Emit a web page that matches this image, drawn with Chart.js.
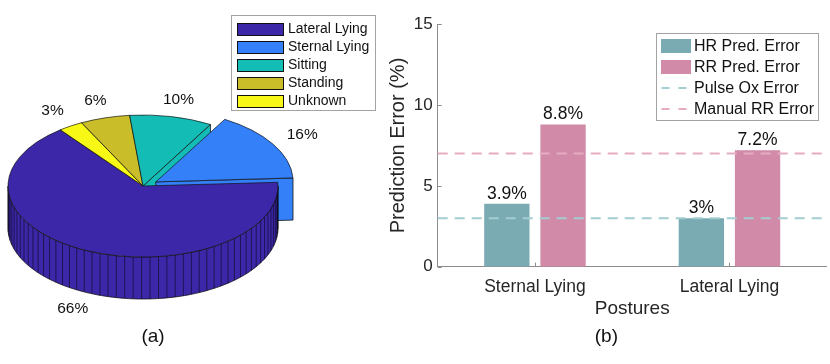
<!DOCTYPE html>
<html>
<head>
<meta charset="utf-8">
<script src="https://cdn.jsdelivr.net/npm/chart.js@4.4.1/dist/chart.umd.min.js"></script>
<style>
html,body{margin:0;padding:0;background:#fff;width:830px;height:364px;overflow:hidden}
#pie{position:absolute;left:0;top:0}
#bar{position:absolute;left:386px;top:0}
</style>
</head>
<body>
<canvas id="pie" width="400" height="364"></canvas>
<canvas id="bar" width="444" height="364"></canvas>
<script>
// ---------- data ----------
const postures = ['Lateral Lying', 'Sternal Lying', 'Sitting', 'Standing', 'Unknown'];
const postureShare = [66, 16, 10, 6, 3];
const postureColors = ['#3c27a8', '#3480f8', '#13bdb6', '#c9bd2a', '#f8f816'];
const pieClockwiseOrder = [0, 4, 3, 2, 1];

const barCategories = ['Sternal Lying', 'Lateral Lying'];
const hrPredError = [3.9, 3.0];
const rrPredError = [8.8, 7.2];
const refLabels = ['Pulse Ox Error', 'Manual RR Error'];
const refErrors = [3, 7];
const yTicks = [0, 5, 10, 15];

// ---------- styles ----------
const FONT = '"Liberation Sans", Arial, Helvetica, sans-serif';
Chart.defaults.font.family = FONT;
const textColor = '#262626';
const axisColor = '#8c8c8c';
const refColors = ['#a3cdd2', '#e5abc1'];
const explodeIndex = 1;           // Sternal Lying is pulled out
const explodeAmount = 60;
const view = { squash: 0.526, depth: 42, shiftX: -10, labelR: 1.25, stripeStep: Math.PI / 50 };

// ---------- 3D pie plugin ----------
function pieGeometry(chart) {
  const arcs = chart.getDatasetMeta(0).data;
  const cy = arcs[0].y;
  return arcs.map((a, i) => {
    const o = a.options;
    const off = (o.offset || 0) / 4;
    const s = a.startAngle, e = a.endAngle, mid = (s + e) / 2;
    const fix = 1 - Math.sin(Math.min(Math.PI, e - s));
    const ox = a.x + Math.cos(mid) * off, oy = a.y + Math.sin(mid) * off;
    const r = a.outerRadius + off * fix;
    const P = (th, rr, z) => [ox + rr * Math.cos(th) + view.shiftX,
                              cy + (oy + rr * Math.sin(th) - cy) * view.squash + z];
    return { i, s, e, mid, r, P, color: o.backgroundColor };
  });
}
function poly(ctx, pts) {
  ctx.beginPath();
  ctx.moveTo(pts[0][0], pts[0][1]);
  for (let j = 1; j < pts.length; j++) ctx.lineTo(pts[j][0], pts[j][1]);
  ctx.closePath();
}
const pie3d = {
  id: 'pie3d',
  beforeDatasetsDraw(chart) {
    const ctx = chart.ctx;
    const g = pieGeometry(chart);
    const d = view.depth;
    const sorted = g.slice().sort((a, b) => Math.sin(a.mid) - Math.sin(b.mid));
    ctx.save();
    ctx.lineJoin = 'round';
    for (const sl of sorted) {
      [[sl.s, sl.s - Math.PI / 2], [sl.e, sl.e + Math.PI / 2]].forEach(([th, nrm]) => {
        if (Math.sin(nrm) <= 0) return;
        poly(ctx, [sl.P(th, 0, 0), sl.P(th, sl.r, 0), sl.P(th, sl.r, d), sl.P(th, 0, d)]);
        ctx.fillStyle = sl.color; ctx.fill();
        ctx.strokeStyle = '#111'; ctx.lineWidth = 0.8; ctx.stroke();
      });
      for (let n = -1; n <= 1; n++) {
        const lo = Math.max(sl.s, 2 * Math.PI * n), hi = Math.min(sl.e, 2 * Math.PI * n + Math.PI);
        if (hi <= lo) continue;
        const steps = Math.max(2, Math.ceil((hi - lo) / (Math.PI / 180)));
        const pts = [];
        for (let j = 0; j <= steps; j++) pts.push(sl.P(lo + (hi - lo) * j / steps, sl.r, 0));
        for (let j = steps; j >= 0; j--) pts.push(sl.P(lo + (hi - lo) * j / steps, sl.r, d));
        poly(ctx, pts);
        ctx.fillStyle = sl.color; ctx.fill();
        ctx.strokeStyle = '#111'; ctx.lineWidth = 0.8; ctx.stroke();
        ctx.beginPath();
        const st = view.stripeStep;
        for (let th = sl.s + Math.ceil((lo - sl.s) / st) * st; th <= hi; th += st) {
          const p1 = sl.P(th, sl.r, 0), p2 = sl.P(th, sl.r, d);
          ctx.moveTo(p1[0], p1[1]); ctx.lineTo(p2[0], p2[1]);
        }
        ctx.strokeStyle = 'rgba(0,0,0,0.85)'; ctx.lineWidth = 0.6; ctx.stroke();
      }
    }
    ctx.restore();
    const cy = chart.getDatasetMeta(0).data[0].y;
    ctx.save();
    ctx.translate(view.shiftX, cy);
    ctx.scale(1, view.squash);
    ctx.translate(0, -cy);
  },
  afterDatasetsDraw(chart) {
    const ctx = chart.ctx;
    ctx.restore();
    const g = pieGeometry(chart);
    const vals = chart.data.datasets[0].data;
    ctx.save();
    ctx.font = '15.5px ' + FONT;
    ctx.fillStyle = '#111';
    ctx.textAlign = 'center';
    ctx.textBaseline = 'middle';
    g.forEach(sl => {
      const z = Math.sin(sl.mid) > 0 ? view.depth : 0;
      const p = sl.P(sl.mid, sl.r * view.labelR, z);
      ctx.fillText(vals[sl.i] + '%', p[0], p[1]);
    });
    ctx.restore();
  },
  afterDraw(chart) {
    const ctx = chart.ctx;
    const box = { x: 231.5, y: 15.5, w: 144, h: 95, rowH: 18, first: 28.5 };
    ctx.save();
    ctx.fillStyle = '#fff';
    ctx.fillRect(box.x, box.y, box.w, box.h);
    ctx.strokeStyle = '#a3a3a3'; ctx.lineWidth = 1;
    ctx.strokeRect(box.x, box.y, box.w, box.h);
    ctx.font = '14px ' + FONT;
    ctx.textBaseline = 'middle';
    ctx.textAlign = 'left';
    postures.forEach((name, i) => {
      const yc = box.first + i * box.rowH;
      ctx.fillStyle = postureColors[i];
      ctx.fillRect(box.x + 6, Math.round(yc - 6) + 0.5, 46, 12);
      ctx.strokeStyle = '#111';
      ctx.strokeRect(box.x + 6, Math.round(yc - 6) + 0.5, 46, 12);
      ctx.fillStyle = '#111';
      ctx.fillText(name, box.x + 56.5, yc + 0.5);
    });
    ctx.restore();
  }
};

new Chart(document.getElementById('pie'), {
  type: 'pie',
  data: {
    labels: pieClockwiseOrder.map(i => postures[i]),
    datasets: [{
      data: pieClockwiseOrder.map(i => postureShare[i]),
      backgroundColor: pieClockwiseOrder.map(i => postureColors[i]),
      offset: pieClockwiseOrder.map(i => i === explodeIndex ? explodeAmount : 0),
      borderColor: '#111',
      borderWidth: 0.9,
      hoverOffset: 0,
      clip: false
    }]
  },
  options: {
    responsive: false,
    animation: false,
    events: [],
    rotation: 87,
    radius: 135,
    layout: { padding: { left: 0, right: 94, top: 46.4, bottom: 0 } },
    plugins: {
      legend: { display: false },
      tooltip: { enabled: false },
      title: {
        display: true, position: 'bottom', fullSize: false, text: '(a)',
        font: { size: 19, weight: 'normal' }, color: '#111',
        padding: { top: 0, bottom: 15.6 }
      }
    }
  },
  plugins: [pie3d]
});

// ---------- bar chart ----------
const barDecor = {
  id: 'barDecor',
  afterDatasetsDraw(chart) {
    const ctx = chart.ctx;
    const xs = chart.scales.x, ys = chart.scales.y, area = chart.chartArea;
    ctx.save();
    ctx.lineWidth = 2;
    ctx.setLineDash([10, 7]);
    refErrors.forEach((v, i) => {
      const y = ys.getPixelForValue(v);
      ctx.strokeStyle = refColors[i];
      ctx.beginPath(); ctx.moveTo(area.left, y); ctx.lineTo(area.right, y); ctx.stroke();
    });
    ctx.setLineDash([]);
    ctx.font = '17.5px ' + FONT;
    ctx.fillStyle = '#111';
    ctx.textAlign = 'center';
    ctx.textBaseline = 'middle';
    [0, 1].forEach(di => {
      const meta = chart.getDatasetMeta(di);
      meta.data.forEach((el, j) => {
        ctx.fillText(chart.data.datasets[di].data[j] + '%', el.x, el.y - 10);
      });
    });
    ctx.strokeStyle = axisColor; ctx.lineWidth = 1;
    ctx.beginPath();
    ys.ticks.forEach(t => {
      const y = Math.round(ys.getPixelForValue(t.value)) + 0.5;
      ctx.moveTo(ys.right, y); ctx.lineTo(ys.right + 4, y);
    });
    xs.ticks.forEach((t, i) => {
      const x = Math.round(xs.getPixelForTick(i)) + 0.5;
      ctx.moveTo(x, xs.top); ctx.lineTo(x, xs.top - 4);
    });
    ctx.stroke();
    ctx.restore();
  },
  afterDraw(chart) {
    const ctx = chart.ctx;
    const box = { x: 270.5, y: 33.5, w: 162, h: 87, first: 46, rowH: 21 };
    const items = chart.data.datasets.map(ds => ({ label: ds.label, bar: true, color: ds.backgroundColor }))
      .concat(refLabels.map((l, i) => ({ label: l, bar: false, color: refColors[i] })));
    ctx.save();
    ctx.fillStyle = '#fff';
    ctx.fillRect(box.x, box.y, box.w, box.h);
    ctx.strokeStyle = '#a3a3a3'; ctx.lineWidth = 1;
    ctx.strokeRect(box.x, box.y, box.w, box.h);
    ctx.font = '16px ' + FONT;
    ctx.textBaseline = 'middle';
    ctx.textAlign = 'left';
    items.forEach((it, i) => {
      const yc = box.first + i * box.rowH;
      if (!it.bar) {
        ctx.strokeStyle = it.color; ctx.lineWidth = 2;
        ctx.setLineDash([8, 9]);
        ctx.beginPath(); ctx.moveTo(box.x + 5, yc); ctx.lineTo(box.x + 35, yc); ctx.stroke();
        ctx.setLineDash([]);
      } else {
        ctx.fillStyle = it.color;
        ctx.fillRect(box.x + 4.5, yc - 7, 30, 14);
      }
      ctx.fillStyle = '#111';
      ctx.fillText(it.label, box.x + 37.5, yc + 0.5);
    });
    ctx.restore();
  }
};

new Chart(document.getElementById('bar'), {
  type: 'bar',
  data: {
    labels: barCategories,
    datasets: [
      { label: 'HR Pred. Error', data: hrPredError, backgroundColor: '#7aabb2',
        categoryPercentage: 0.578, barPercentage: 0.806 },
      { label: 'RR Pred. Error', data: rrPredError, backgroundColor: '#d18aa7',
        categoryPercentage: 0.578, barPercentage: 0.806 }
    ]
  },
  options: {
    responsive: false,
    animation: false,
    events: [],
    layout: { padding: { left: 0, right: 3.3, top: 24.3, bottom: 0 } },
    scales: {
      x: {
        type: 'category', offset: true,
        grid: { display: false, drawTicks: false },
        border: { display: true, color: axisColor, width: 1 },
        ticks: { font: { size: 17.5 }, color: textColor, padding: 10, maxRotation: 0 },
        title: { display: true, text: 'Postures', font: { size: 19 }, color: textColor,
                 padding: { top: 0, bottom: 5.2 } },
        afterFit(s) { s.height = 58.9; }
      },
      y: {
        min: 0, max: 15,
        afterBuildTicks(s) { s.ticks = yTicks.map(v => ({ value: v })); },
        grid: { display: false, drawTicks: false },
        border: { display: true, color: axisColor, width: 1 },
        ticks: { font: { size: 17 }, color: textColor, padding: 5 },
        title: { display: true, text: 'Prediction Error (%)', font: { size: 20 }, color: textColor,
                 padding: { top: 0, bottom: 0 } },
        afterFit(s) { s.width = 51.7; }
      }
    },
    plugins: {
      legend: { display: false },
      tooltip: { enabled: false },
      title: {
        display: true, position: 'bottom', text: '(b)',
        font: { size: 19, weight: 'normal' }, color: '#111',
        padding: { top: 0, bottom: 15.6 }
      }
    }
  },
  plugins: [barDecor]
});
</script>
</body>
</html>
